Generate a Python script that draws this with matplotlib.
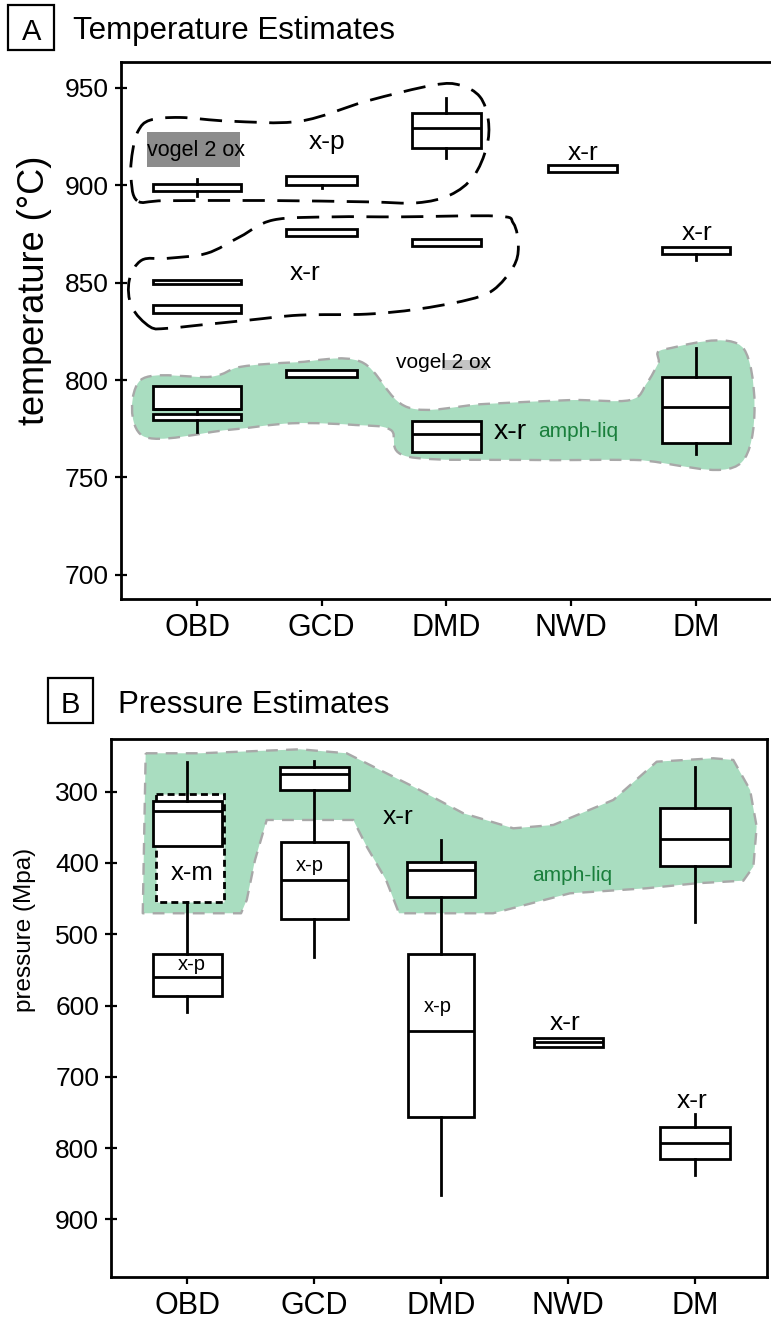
import matplotlib
matplotlib.use('Agg')
import matplotlib.pyplot as plt
from matplotlib.patches import Rectangle, PathPatch
from matplotlib.path import Path
import numpy as np

plt.rcParams['font.family'] = ['Liberation Sans', 'DejaVu Sans']

W, H = 771, 1320
fig = plt.figure(figsize=(7.71, 13.2), dpi=100)

categories = ['OBD', 'GCD', 'DMD', 'NWD', 'DM']

# ---------------- Panel A : temperature boxes ----------------
tA_cat = [0, 1, 2, 0, 0, 1, 2, 3, 4, 0, 0, 1, 2, 4]
tA_q1 = [896.9, 900.0, 919.0, 849.1, 834.5, 873.8, 868.7, 906.8, 864.5, 785.0, 779.5, 801.7, 762.9, 767.5]
tA_med = [898.8, 902.2, 929.2, 850.2, 836.5, 875.6, 870.5, 908.4, 866.5, 785.0, 781.0, 803.4, 772.3, 786.0]
tA_q3 = [900.5, 904.8, 936.9, 851.4, 838.5, 877.4, 872.3, 910.1, 868.4, 797.1, 782.6, 805.1, 779.1, 801.4]
tA_lo = [894.4, 898.6, 913.7, 849.1, 834.5, 873.8, 868.7, 906.8, 861.5, 785.0, 773.5, 801.7, 762.9, 762.0]
tA_hi = [902.9, 904.8, 944.5, 851.4, 838.5, 877.4, 872.3, 910.1, 868.4, 797.1, 785.0, 805.1, 779.1, 816.3]

# amph-liq envelope (panel A)
ampA_x = [-0.452, 0.112, 0.353, 0.799, 1.313, 1.690, 2.306, 2.991, 3.472, 3.606, 3.699, 3.753,
          4.387, 4.368, 3.504, 2.646, 1.690, 1.553, 1.275, 0.762, 0.249, -0.435]
ampA_y = [800.0, 801.7, 806.8, 809.1, 809.4, 786.0, 787.7, 789.7, 789.7, 798.3, 808.6, 815.8,
          815.8, 757.8, 759.0, 759.0, 760.7, 774.4, 776.9, 777.8, 774.4, 771.3]

# x-p dashed loop
xpA_x = [-0.480, -0.530, -0.515, -0.470, -0.377, -0.136, 0.265, 0.826, 1.361, 1.895, 2.109, 2.269,
         2.336, 2.323, 2.216, 2.029, 1.762, 1.361, 0.559, -0.250]
xpA_y = [892.0, 905.0, 918.0, 928.0, 933.3, 934.7, 932.8, 932.8, 943.1, 951.3, 951.3, 945.3,
         933.3, 919.6, 904.3, 894.9, 890.9, 891.4, 892.1, 892.0]

# x-r dashed loop
xrA_x = [-0.377, -0.524, -0.543, -0.443, -0.243, 0.078, 0.345, 0.612, 1.093, 1.628, 2.403, 2.537,
         2.577, 2.537, 2.376, 2.163, 1.762, 1.361, 0.826, 0.425, 0.024, -0.243]
xrA_y = [827.3, 837.6, 851.3, 861.5, 862.4, 865.0, 873.5, 882.1, 883.7, 883.7, 884.1, 880.4,
         868.4, 858.1, 846.2, 841.0, 836.3, 833.8, 833.3, 830.8, 828.2, 826.5]

# ---------------- Panel B : pressure boxes ----------------
pB_cat = [0, 0, 1, 1, 2, 2, 3, 4, 4]
pB_q1 = [313.0, 527.7, 264.9, 371.0, 398.2, 527.7, 645.2, 323.3, 770.9]
pB_med = [326.7, 560.4, 275.6, 423.9, 409.9, 635.8, 651.5, 366.8, 793.4]
pB_q3 = [375.8, 586.2, 297.6, 479.0, 447.3, 756.0, 657.8, 403.8, 815.4]
pB_lo = [257.9, 454.3, 256.5, 297.6, 367.8, 447.3, 645.2, 264.9, 752.2]
pB_hi = [375.8, 608.7, 297.6, 531.5, 447.3, 866.1, 657.8, 482.4, 838.0]

# x-m range (dashed box) in panel B
xmB_range = [303.2, 454.3]

# amph-liq envelope (panel B)
ampB_x = [-0.328, 0.100, 0.887, 1.255, 1.517, 1.780, 2.173, 2.567, 2.882, 3.354, 3.696, 4.142,
          4.299, 4.431, 4.483, 4.457, 4.378, 4.011, 3.617, 3.013, 2.407, 1.667, 1.565, 1.413,
          1.307, 0.625, 0.533, 0.468, 0.423, -0.351]
ampB_y = [246.1, 246.1, 240.5, 246.1, 269.6, 293.0, 330.3, 351.4, 346.7, 311.6, 257.9, 253.1,
          255.5, 297.6, 349.1, 405.2, 424.9, 428.5, 435.5, 442.6, 470.6, 470.6, 423.9, 377.2,
          339.7, 339.7, 395.8, 451.9, 470.6, 470.6]

GREEN = '#a9ddc0'
GREEN_TXT = '#1a7f3c'
EDGE_GRAY = '#a8a8a8'
LW = 2.0


def fx(px):
    return px / W


def fy(py):
    return 1 - py / H


def smooth_path(xs, ys):
    pts = np.column_stack([xs, ys]).astype(float)
    n = len(pts)
    verts = [pts[0]]
    codes = [Path.MOVETO]
    for i in range(n):
        p0 = pts[(i - 1) % n]
        p1 = pts[i]
        p2 = pts[(i + 1) % n]
        p3 = pts[(i + 2) % n]
        c1 = p1 + (p2 - p0) / 6.0
        c2 = p2 - (p3 - p1) / 6.0
        verts += [c1, c2, p2]
        codes += [Path.CURVE4] * 3
    verts.append(pts[0])
    codes.append(Path.CLOSEPOLY)
    return Path(verts, codes)


def draw_boxes(ax, cat, q1, med, q3, lo, hi, shifts, widths):
    stats = []
    for i in range(len(cat)):
        stats.append(dict(q1=q1[i], med=med[i], q3=q3[i], whislo=lo[i], whishi=hi[i], fliers=[]))
    pos = [cat[i] + shifts[i] for i in range(len(cat))]
    res = ax.bxp(stats, positions=pos, widths=widths, patch_artist=True, showcaps=False,
                 showfliers=False, manage_ticks=False, zorder=4,
                 boxprops=dict(facecolor='white', edgecolor='black', linewidth=LW),
                 whiskerprops=dict(color='black', linewidth=LW),
                 medianprops=dict(color='black', linewidth=LW, solid_capstyle='butt'))
    for i, m in enumerate(res['medians']):
        if q3[i] - q1[i] < 5:
            m.set_visible(False)
    return res


def style_axes(ax):
    for s in ax.spines.values():
        s.set_linewidth(LW)
    ax.tick_params(axis='y', direction='inout', length=9, width=1.6, labelsize=19, pad=4)
    ax.tick_params(axis='x', direction='out', length=5, width=1.6, labelsize=22, pad=5)
    ax.set_xticks(range(len(categories)))
    ax.set_xticklabels(categories)


# ================= Panel A =================
axA = fig.add_axes([fx(120.7), fy(599.3), fx(773) - fx(120.7), fy(62.3) - fy(599.3)])
axA.set_xlim(-0.612, (773 - 197) / 124.7)
axA.set_ylim(687.5, 963)
axA.set_yticks([700, 750, 800, 850, 900, 950])
style_axes(axA)
axA.spines['right'].set_visible(False)

axA.add_patch(PathPatch(smooth_path(ampA_x, ampA_y), facecolor=GREEN, edgecolor=EDGE_GRAY,
                        lw=1.7, linestyle=(0, (5, 3.5)), zorder=1))
axA.add_patch(PathPatch(smooth_path(xpA_x, xpA_y), facecolor='none', edgecolor='black',
                        lw=LW, linestyle=(0, (8, 4.5)), zorder=2))
axA.add_patch(PathPatch(smooth_path(xrA_x, xrA_y), facecolor='none', edgecolor='black',
                        lw=LW, linestyle=(0, (8, 4.5)), zorder=2))

tA_shift = [0, 0, 0, 0, 0, 0, 0, 0.09, 0, 0, 0, 0, 0, 0]
tA_width = [0.71, 0.57, 0.55, 0.71, 0.71, 0.57, 0.55, 0.55, 0.55, 0.70, 0.70, 0.57, 0.55, 0.55]
draw_boxes(axA, tA_cat, tA_q1, tA_med, tA_q3, tA_lo, tA_hi, tA_shift, tA_width)

# vogel 2 ox (dark grey box)
axA.add_patch(Rectangle((-0.398, 909.1), 0.746, 18.2, facecolor='#8c8c8c', edgecolor='none', zorder=3))
axA.text(-0.01, 917.5, 'vogel 2 ox', ha='center', va='center', fontsize=15.5, zorder=5)
# vogel 2 ox (light grey highlight)
axA.add_patch(Rectangle((1.965, 805.1), 0.36, 5.2, facecolor='#c4c4c4', edgecolor='none', zorder=3))
axA.text(1.98, 809.0, 'vogel 2 ox', ha='center', va='center', fontsize=15, zorder=5)

axA.text(1.04, 922.2, 'x-p', ha='center', va='center', fontsize=19, zorder=5)
axA.text(0.866, 854.7, 'x-r', ha='center', va='center', fontsize=19, zorder=5)
axA.text(3.095, 916.6, 'x-r', ha='center', va='center', fontsize=19, zorder=5)
axA.text(4.007, 875.2, 'x-r', ha='center', va='center', fontsize=19, zorder=5)
axA.text(2.51, 773.5, 'x-r', ha='center', va='center', fontsize=20.5, zorder=5)
axA.text(3.06, 773.5, 'amph-liq', ha='center', va='center', fontsize=15, color=GREEN_TXT, zorder=5)

fig.text(fx(35), fy(290), 'temperature (°C)', rotation=90, ha='center', va='center', fontsize=26)

# title A
fig.patches.append(Rectangle((fx(8.3), fy(50)), fx(46), 45 / H, transform=fig.transFigure,
                             fill=False, edgecolor='black', lw=1.6))
fig.text(fx(31.3), fy(40), 'A', ha='center', va='baseline', fontsize=21)
fig.text(fx(72.7), fy(39.3), 'Temperature Estimates', ha='left', va='baseline', fontsize=22.5)

# ================= Panel B =================
axB = fig.add_axes([fx(111), fy(1276.7), fx(766.7) - fx(111), fy(739.3) - fy(1276.7)])
axB.set_xlim(-0.601, 4.562)
axB.set_ylim(980.5, 226.5)
axB.set_yticks([300, 400, 500, 600, 700, 800, 900])
style_axes(axB)

axB.add_patch(PathPatch(Path(np.column_stack([ampB_x + [ampB_x[0]], ampB_y + [ampB_y[0]]]),
                             closed=True),
                        facecolor=GREEN, edgecolor=EDGE_GRAY, lw=1.7, linestyle=(0, (5, 3.5)),
                        zorder=1, joinstyle='round'))
axB.add_patch(Rectangle((-0.249, xmB_range[0]), 0.538, xmB_range[1] - xmB_range[0],
                        facecolor='white', edgecolor='black', lw=LW, linestyle=(0, (2.5, 1.5)),
                        zorder=2))

pB_shift = [0, 0, 0, 0, 0, 0, 0, 0, 0]
pB_width = [0.54, 0.54, 0.54, 0.53, 0.535, 0.52, 0.54, 0.55, 0.55]
draw_boxes(axB, pB_cat, pB_q1, pB_med, pB_q3, pB_lo, pB_hi, pB_shift, pB_width)

axB.text(0.035, 414.5, 'x-m', ha='center', va='center', fontsize=18.5, zorder=5)
axB.text(0.036, 543, 'x-p', ha='center', va='center', fontsize=14.5, zorder=5)
axB.text(0.966, 404, 'x-p', ha='center', va='center', fontsize=14.5, zorder=5)
axB.text(1.971, 600.9, 'x-p', ha='center', va='center', fontsize=14.5, zorder=5)
axB.text(1.66, 335, 'x-r', ha='center', va='center', fontsize=19, zorder=5)
axB.text(3.03, 416.9, 'amph-liq', ha='center', va='center', fontsize=15, color=GREEN_TXT, zorder=5)
axB.text(2.974, 625, 'x-r', ha='center', va='center', fontsize=19, zorder=5)
axB.text(3.973, 733.6, 'x-r', ha='center', va='center', fontsize=19, zorder=5)

fig.text(fx(25), fy(930), 'pressure (Mpa)', rotation=90, ha='center', va='center', fontsize=17.5)

fig.patches.append(Rectangle((fx(47.7), fy(723.3)), fx(45.6), 45.6 / H, transform=fig.transFigure,
                             fill=False, edgecolor='black', lw=1.6))
fig.text(fx(70.5), fy(713.3), 'B', ha='center', va='baseline', fontsize=21)
fig.text(fx(118.3), fy(713.3), 'Pressure Estimates', ha='left', va='baseline', fontsize=22.5)

fig.savefig('out.png', dpi=100)
